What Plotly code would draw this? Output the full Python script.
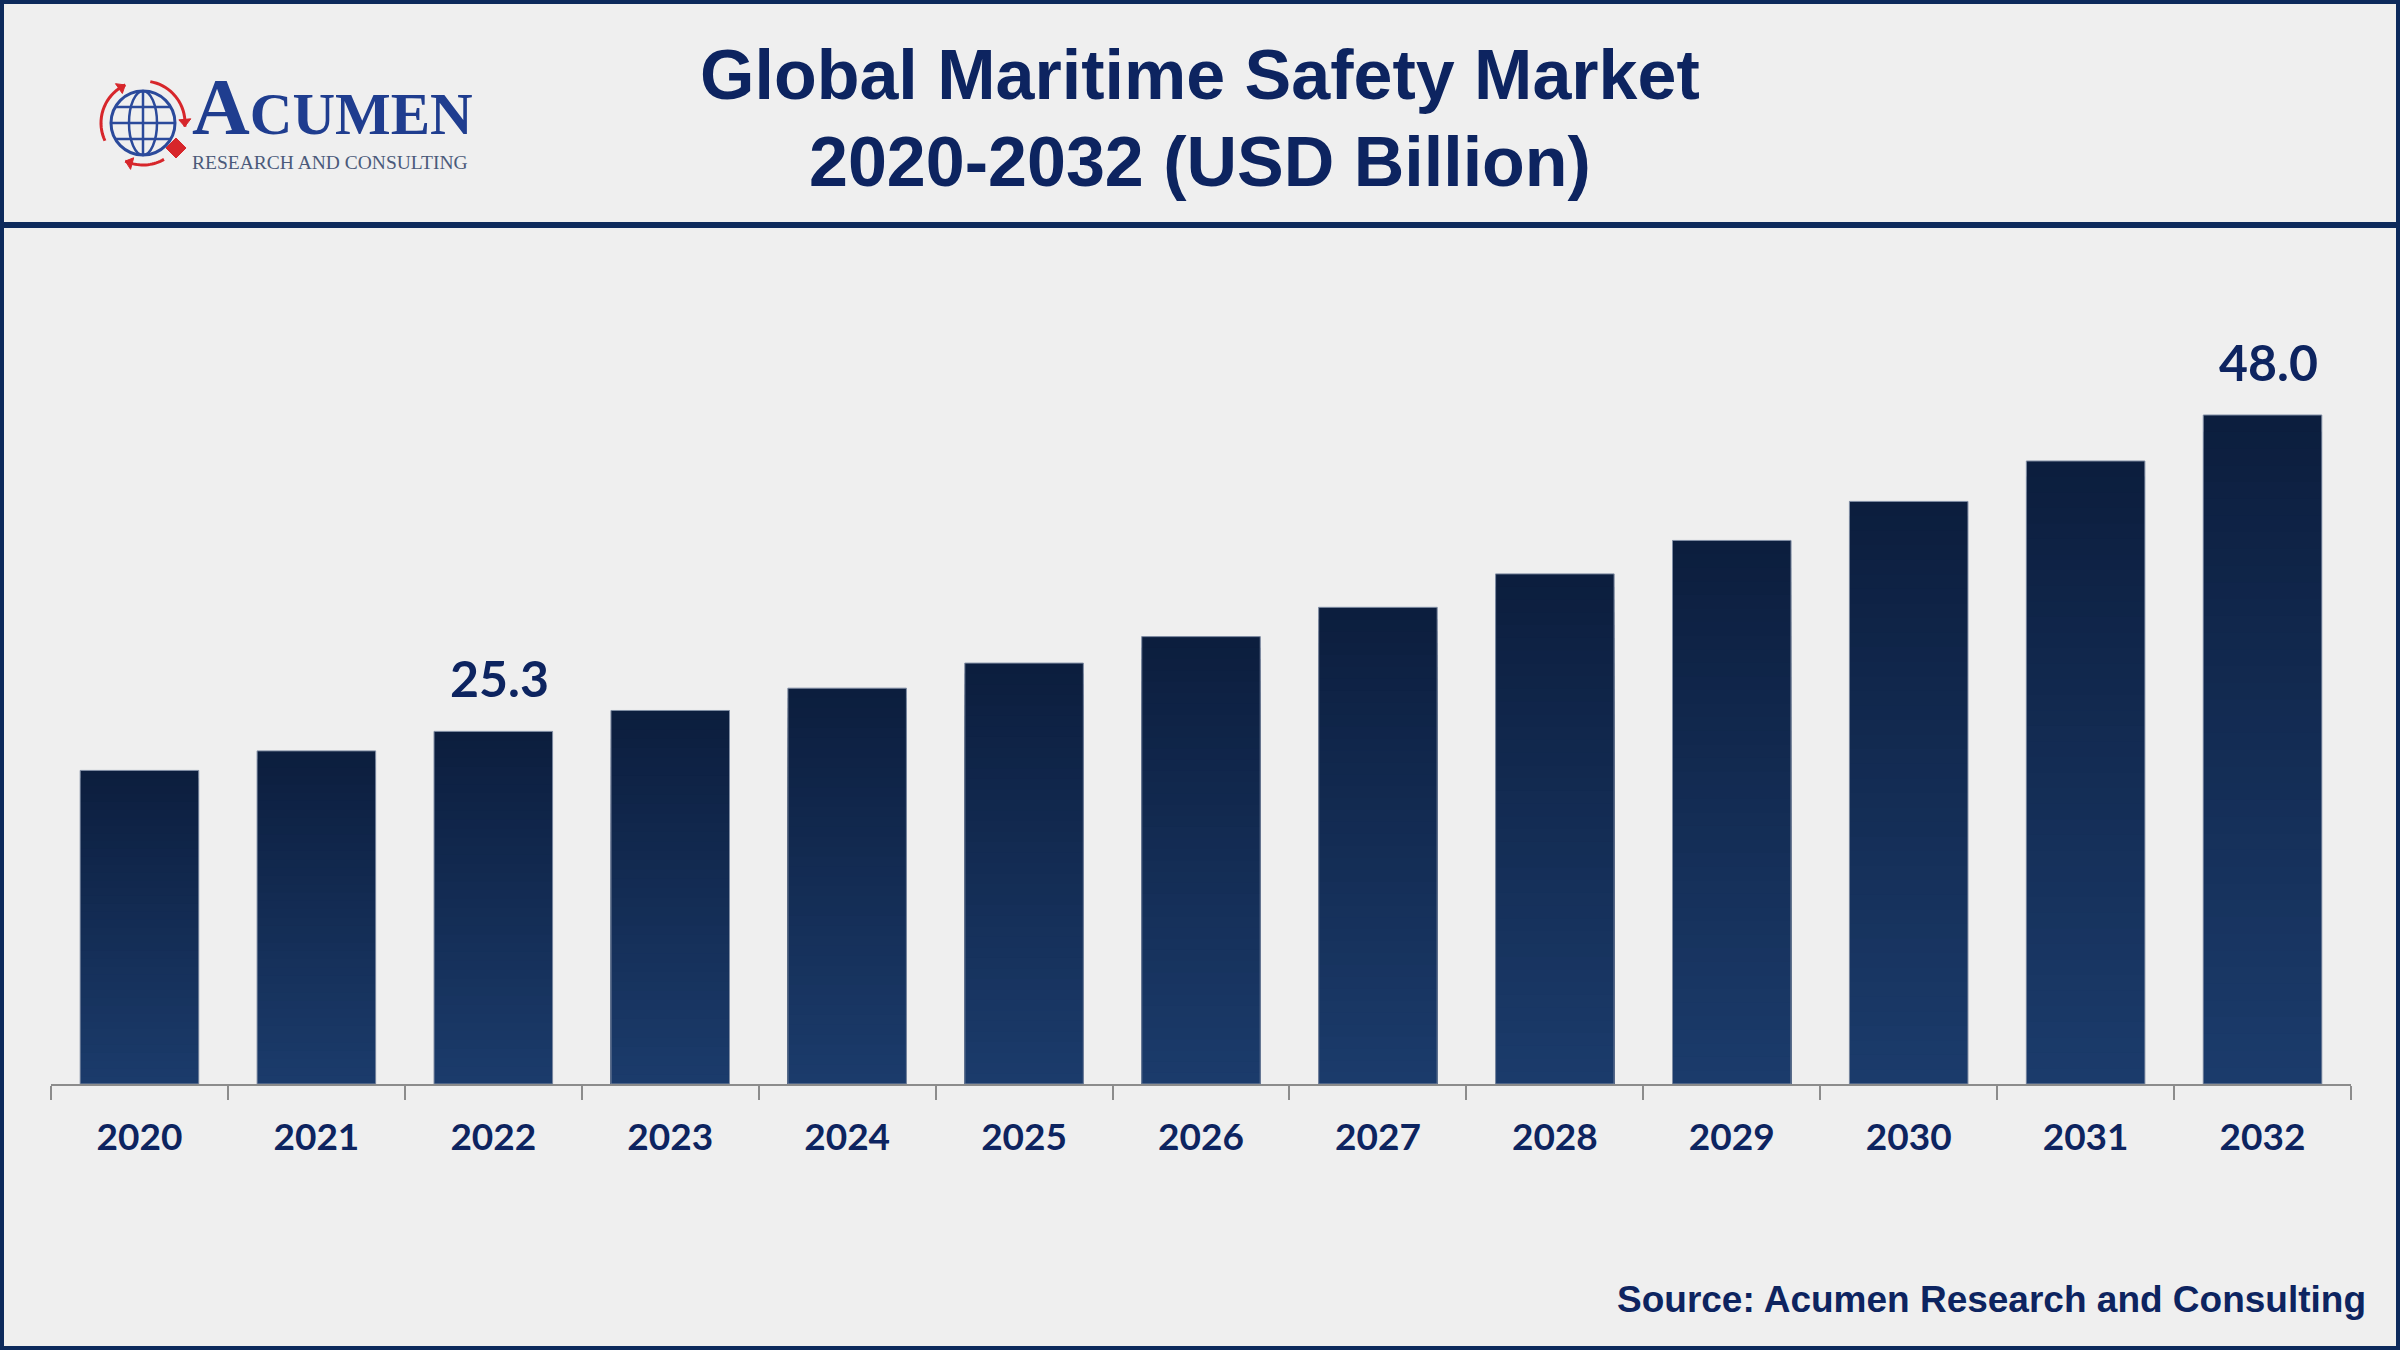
import numpy as np
import plotly.graph_objects as go

# ---------------- data ----------------
years = ["2020", "2021", "2022", "2023", "2024", "2025", "2026",
         "2027", "2028", "2029", "2030", "2031", "2032"]
market_values = [22.5, 23.9, 25.3, 26.8, 28.4, 30.2, 32.1,
                 34.2, 36.6, 39.0, 41.8, 44.7, 48.0]
labelled_years = ["2022", "2032"]
labelled_texts = ["25.3", "48.0"]

title_line1 = "Global Maritime Safety Market"
title_line2 = "2020-2032 (USD Billion)"
source_text = "Source: Acumen Research and Consulting"

# ---------------- layout geometry ----------------
W, H = 2400, 1350
ML, MR, MT, MB = 51, 49, 300, 266
PW = W - ML - MR
PH = H - MT - MB
NAVY = "#0d2460"
BG = "#efefef"


def px(x):
    return (x - ML) / PW


def py(y):
    return (H - MB - y) / PH


fig = go.Figure()

# gradient bars: nested overlays, dark top -> lighter bottom
N = 40
top_c = np.array([12, 30, 62])
bot_c = np.array([27, 59, 107])
for k in range(N):
    f = (N - k) / N
    t = k / (N - 1)
    c = top_c * (1 - t) + bot_c * t
    col = "rgb(%d,%d,%d)" % tuple(int(round(v)) for v in c)
    fig.add_trace(go.Bar(
        x=years, y=[v * f for v in market_values], width=0.67,
        marker=dict(color=col, line=dict(width=0)),
        hoverinfo="skip", showlegend=False))

# outline
fig.add_trace(go.Bar(
    x=years, y=market_values, width=0.67,
    marker=dict(color="rgba(0,0,0,0)", line=dict(color="#7f8ca3", width=1)),
    hoverinfo="skip", showlegend=False))

annotations = []
for yr, txt in zip(labelled_years, labelled_texts):
    i = years.index(yr)
    annotations.append(dict(
        x=i, y=market_values[i], xref="x", yref="y",
        text=txt, showarrow=False, yanchor="bottom", yshift=21, xshift=6,
        font=dict(family="Lato", size=50, color=NAVY, weight="bold")))

# titles
annotations.append(dict(x=px(1200), y=py(75), xref="paper", yref="paper",
                        text=title_line1, showarrow=False, xanchor="center", yanchor="middle",
                        font=dict(family="Liberation Sans", size=70, color=NAVY, weight="bold")))
annotations.append(dict(x=px(1200), y=py(162), xref="paper", yref="paper",
                        text=title_line2, showarrow=False, xanchor="center", yanchor="middle",
                        font=dict(family="Liberation Sans", size=70, color=NAVY, weight="bold")))
# source
annotations.append(dict(x=px(2368), y=py(1299), xref="paper", yref="paper",
                        text=source_text, showarrow=False, xanchor="right", yanchor="middle",
                        font=dict(family="Liberation Sans", size=37, color=NAVY, weight="bold")))
# logo text (one text block)
logo_text = ("<span style='font-size:80px;color:#1f3d8f;font-weight:bold'>A</span>"
             "<span style='font-size:59px;color:#1f3d8f;font-weight:bold'>CUMEN</span><br>"
             "<span style='font-size:19.5px;color:#4b5a7a'>RESEARCH AND CONSULTING</span>")
annotations.append(dict(x=px(190), y=py(61), xref="paper", yref="paper",
                        text=logo_text, showarrow=False, align="left",
                        xanchor="left", yanchor="top",
                        font=dict(family="Liberation Serif", size=27, color="#1f3d8f")))

shapes = []
# frame
shapes.append(dict(type="rect", xref="paper", yref="paper",
                   x0=px(2), x1=px(W - 2), y0=py(2), y1=py(H - 2),
                   line=dict(color="#0d2a5c", width=4), fillcolor="rgba(0,0,0,0)", layer="above"))
# header separator
shapes.append(dict(type="line", xref="paper", yref="paper",
                   x0=px(0), x1=px(W), y0=py(225), y1=py(225),
                   line=dict(color="#0d2a5c", width=6)))


def path(points, close=False):
    s = "M " + " L ".join("%.6f,%.6f" % (px(a), py(b)) for a, b in points)
    return s + (" Z" if close else "")


# globe
gx, gy, gr = 143, 123, 32
GLOBE = "#2b4a9b"
shapes.append(dict(type="circle", xref="paper", yref="paper",
                   x0=px(gx - gr), x1=px(gx + gr), y0=py(gy - gr), y1=py(gy + gr),
                   line=dict(color=GLOBE, width=3)))
shapes.append(dict(type="circle", xref="paper", yref="paper",
                   x0=px(gx - 14), x1=px(gx + 14), y0=py(gy - gr), y1=py(gy + gr),
                   line=dict(color=GLOBE, width=2.5)))
shapes.append(dict(type="path", xref="paper", yref="paper",
                   path=path([(gx, gy - gr), (gx, gy + gr)]), line=dict(color=GLOBE, width=2.5)))
for dy in (-16, 0, 16):
    hw = np.sqrt(gr ** 2 - dy ** 2)
    shapes.append(dict(type="path", xref="paper", yref="paper",
                       path=path([(gx - hw, gy + dy), (gx + hw, gy + dy)]),
                       line=dict(color=GLOBE, width=2.5)))
# red arrows ring
RED = "#d7262b"
rr = 42
for a0, a1 in ((205, 115), (80, -5), (300, 245)):
    angs = np.radians(np.linspace(a0, a1, 20))
    pts = [(gx + rr * np.cos(a), gy - rr * np.sin(a)) for a in angs]
    shapes.append(dict(type="path", xref="paper", yref="paper",
                       path=path(pts), line=dict(color=RED, width=3)))
    ae = np.radians(a1)
    tip = (gx + rr * np.cos(ae), gy - rr * np.sin(ae))
    ab = np.radians(a1 + 10)
    base1 = (gx + (rr - 6) * np.cos(ab), gy - (rr - 6) * np.sin(ab))
    base2 = (gx + (rr + 6) * np.cos(ab), gy - (rr + 6) * np.sin(ab))
    shapes.append(dict(type="path", xref="paper", yref="paper",
                       path=path([tip, base1, base2], close=True),
                       fillcolor=RED, line=dict(color=RED, width=1)))
# red diamond
shapes.append(dict(type="path", xref="paper", yref="paper",
                   path=path([(176, 138), (186, 148), (176, 158), (166, 148)], close=True),
                   fillcolor=RED, line=dict(color=RED, width=1)))

fig.update_layout(
    width=W, height=H,
    margin=dict(l=ML, r=MR, t=MT, b=MB),
    paper_bgcolor=BG, plot_bgcolor=BG,
    barmode="overlay", bargap=0.33,
    showlegend=False,
    annotations=annotations, shapes=shapes,
    xaxis=dict(type="category", range=[-0.5, 12.5], tickson="boundaries",
               ticks="outside", ticklen=14, tickwidth=2, tickcolor="#8c8c8c",
               showline=True, linewidth=2, linecolor="#8c8c8c", showgrid=False,
               tickfont=dict(family="Lato", size=37, color=NAVY, weight="bold"),
               ticklabelstandoff=20, fixedrange=True),
    yaxis=dict(visible=False, range=[0, PH / (669 / 48.0)], showgrid=False,
               zeroline=False, fixedrange=True),
)

fig.write_html("out.html")
